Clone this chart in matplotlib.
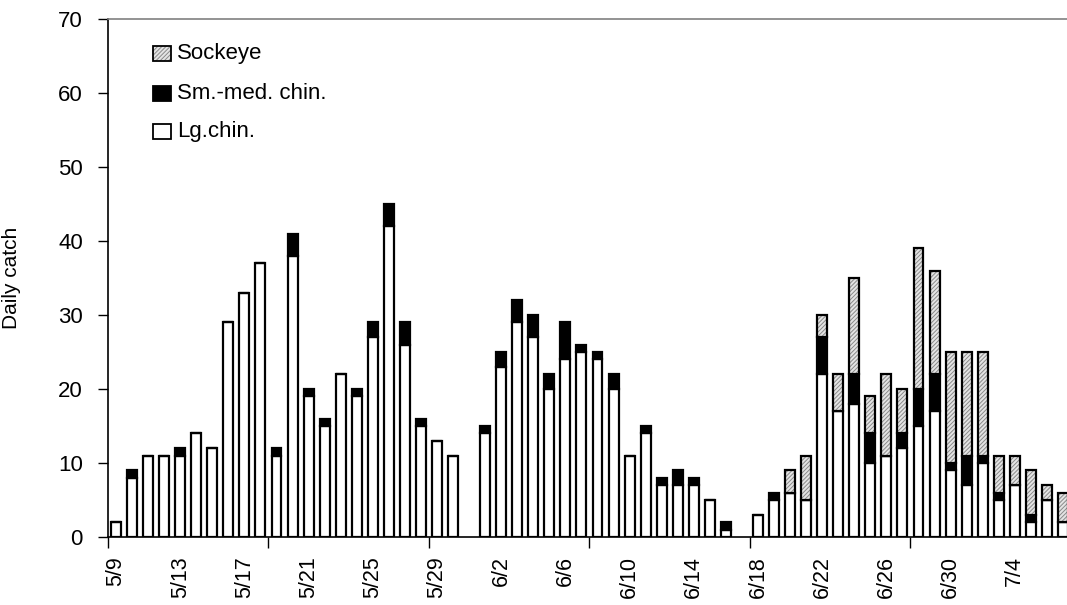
import datetime
import matplotlib
matplotlib.use('Agg')
import matplotlib.pyplot as plt
from matplotlib.patches import Rectangle
import numpy as np

plt.rcParams['font.family'] = ['Liberation Sans', 'DejaVu Sans']
plt.rcParams['hatch.linewidth'] = 0.7

# daily catch, 5/9 .. 7/7 (one entry per day, 0 = no fishing)
lg_chin = [2, 8, 11, 11, 11, 14, 12, 29, 33, 37,
           11, 38, 19, 15, 22, 19, 27, 42, 26, 15,
           13, 11, 0, 14, 23, 29, 27, 20, 24, 25,
           24, 20, 11, 14, 7, 7, 7, 5, 1, 0,
           3, 5, 6, 5, 22, 17, 18, 10, 11, 12,
           15, 17, 9, 7, 10, 5, 7, 2, 5, 2]
sm_chin = [0, 1, 0, 0, 1, 0, 0, 0, 0, 0,
           1, 3, 1, 1, 0, 1, 2, 3, 3, 1,
           0, 0, 0, 1, 2, 3, 3, 2, 5, 1,
           1, 2, 0, 1, 1, 2, 1, 0, 1, 0,
           0, 1, 0, 0, 5, 0, 4, 4, 0, 2,
           5, 5, 1, 4, 1, 1, 0, 1, 0, 0]
sockeye = [0, 0, 0, 0, 0, 0, 0, 0, 0, 0,
           0, 0, 0, 0, 0, 0, 0, 0, 0, 0,
           0, 0, 0, 0, 0, 0, 0, 0, 0, 0,
           0, 0, 0, 0, 0, 0, 0, 0, 0, 0,
           0, 0, 3, 6, 3, 5, 13, 5, 11, 6,
           19, 14, 15, 14, 14, 5, 4, 6, 2, 4]
legend_names = ['Sockeye', 'Sm.-med. chin.', 'Lg.chin.']

start = datetime.date(2000, 5, 9)
days = [start + datetime.timedelta(days=i) for i in range(len(lg_chin))]
day_labels = ['%d/%d' % (d.month, d.day) for d in days]

lg = np.array(lg_chin)
sm = np.array(sm_chin)
so = np.array(sockeye)
x = np.arange(len(lg))

fig = plt.figure(figsize=(10.67, 6.05), dpi=100)
ax = fig.add_axes([0.1012, 0.1124, 0.9025, 0.8562])

w = 0.62
lw = 1.6
sock_face = '#e4e4e4'
sock_hatch = '#8a8a8a'
show = (lg + sm + so) > 0
xs = x[show]

ax.bar(xs, lg[show], w, color='white', edgecolor='black', linewidth=lw)
ax.bar(xs, sm[show], w, bottom=lg[show], color='black', edgecolor='black', linewidth=lw)
# sockeye: gray fine hatch, then black outline on top
sk = so > 0
ax.bar(x[sk], so[sk], w, bottom=(lg + sm)[sk], color=sock_face, edgecolor=sock_hatch,
       hatch='////////', linewidth=0)
ax.bar(x[sk], so[sk], w, bottom=(lg + sm)[sk], color='none', edgecolor='black', linewidth=lw)

# legend drawn by hand (axes fraction coords)
faces = [sock_face, 'black', 'white']
row_y = [0.934, 0.857, 0.782]
for name, fc, yy in zip(legend_names, faces, row_y):
    if fc == sock_face:
        ax.add_patch(Rectangle((0.0467, yy - 0.0145), 0.0187, 0.029, transform=ax.transAxes,
                               facecolor=fc, edgecolor=sock_hatch, hatch='////////', linewidth=0))
        ax.add_patch(Rectangle((0.0467, yy - 0.0145), 0.0187, 0.029, transform=ax.transAxes,
                               facecolor='none', edgecolor='black', linewidth=1.3))
    else:
        ax.add_patch(Rectangle((0.0467, yy - 0.0145), 0.0187, 0.029, transform=ax.transAxes,
                               facecolor=fc, edgecolor='black', linewidth=1.3))
    ax.text(0.0717, yy, name, transform=ax.transAxes, va='center', ha='left', fontsize=16)

ax.set_xlim(-0.5, len(x) - 0.5)
ax.set_ylim(0, 70)
ax.set_yticks(np.arange(0, 71, 10))
ax.tick_params(axis='y', direction='out', length=7, width=1, labelsize=16, pad=11)

ax.set_xticks(np.arange(-0.5, len(x), 10))
ax.set_xticklabels([])
ax.set_xticks(x[::4], minor=True)
ax.set_xticklabels(day_labels[::4], minor=True, rotation=90, fontsize=15.5)
ax.tick_params(axis='x', which='major', direction='out', length=8, width=1)
ax.tick_params(axis='x', which='minor', length=0, pad=14)

ax.set_ylabel('Daily catch', fontsize=15)
ax.yaxis.set_label_coords(-0.09, 0.5)

ax.spines['left'].set_color('black')
ax.spines['bottom'].set_color('black')
ax.spines['top'].set_color('#808080')
ax.spines['right'].set_color('#808080')
for s in ax.spines.values():
    s.set_linewidth(1.2)

plt.savefig('out.png', dpi=100)
